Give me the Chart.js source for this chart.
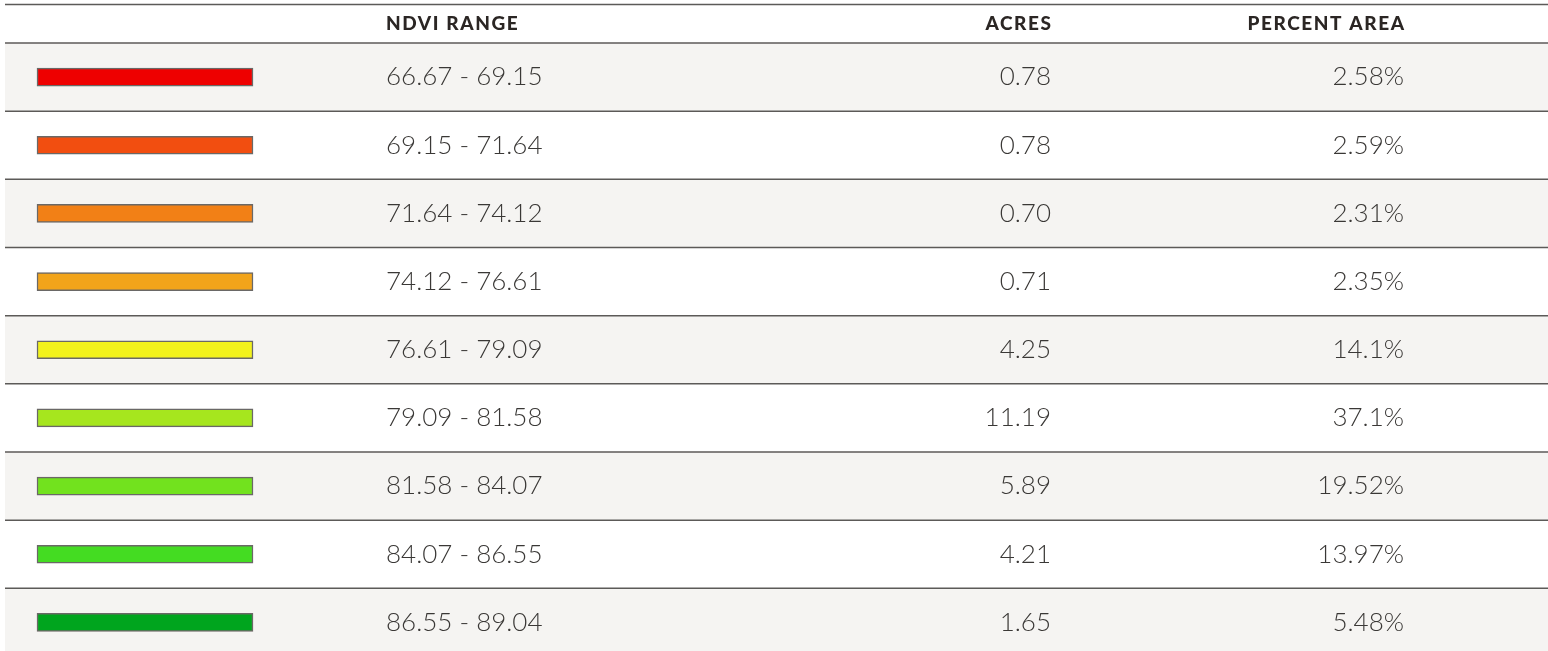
<!DOCTYPE html>
<html>
<head>
<meta charset="utf-8">
<title>NDVI Range Table</title>
<script src="https://cdn.jsdelivr.net/npm/chart.js@4/dist/chart.umd.min.js"></script>
<style>
  html, body { margin: 0; padding: 0; background: #ffffff; }
  #wrap { width: 1548px; height: 651px; position: relative; }
</style>
</head>
<body>
<div id="wrap"><canvas id="ndviTable"></canvas></div>
<script>
// table data
const headers = ['', 'NDVI RANGE', 'ACRES', 'PERCENT AREA'];
const ranges = ['66.67 - 69.15', '69.15 - 71.64', '71.64 - 74.12', '74.12 - 76.61', '76.61 - 79.09',
  '79.09 - 81.58', '81.58 - 84.07', '84.07 - 86.55', '86.55 - 89.04'];
const acres = [0.78, 0.78, 0.70, 0.71, 4.25, 11.19, 5.89, 4.21, 1.65];
const percentArea = [2.58, 2.59, 2.31, 2.35, 14.1, 37.1, 19.52, 13.97, 5.48];
const swatchColors = ['#ee0000', '#f24e10', '#f28016', '#f2a41a', '#f2f21c',
  '#a6e61e', '#72e21e', '#44dc22', '#00a51e'];

// layout (pixels along the x scale, rows along the y scale)
const layout = {
  headerHeight: 43,
  rowsVisible: 8.92,
  lineLeft: 5,
  swatchFrom: 37,
  swatchTo: 253,
  rangeLeft: 386,
  acresRight: 1051,
  percentRight: 1404
};

const rowCenters = ranges.map((_, i) => i + 0.5);

// row shading, separators, header and cell text
const tablePlugin = {
  id: 'tablePlugin',
  beforeDatasetsDraw(chart) {
    const { ctx, chartArea, scales: { y } } = chart;
    ctx.save();
    ranges.forEach((_, i) => {
      const top = y.getPixelForValue(i);
      const bottom = y.getPixelForValue(i + 1);
      if (i % 2 === 0) {
        ctx.fillStyle = '#f5f4f2';
        ctx.fillRect(layout.lineLeft, top, chartArea.right - layout.lineLeft, bottom - top);
      }
    });
    // separators
    ctx.strokeStyle = '#5c5a58';
    ctx.lineWidth = 1.5;
    const lines = [4.5];
    for (let i = 0; i <= ranges.length; i++) lines.push(y.getPixelForValue(i));
    lines.forEach(py => {
      ctx.beginPath();
      ctx.moveTo(layout.lineLeft, py);
      ctx.lineTo(chartArea.right, py);
      ctx.stroke();
    });
    ctx.restore();
  },
  afterDatasetsDraw(chart) {
    const { ctx, scales: { x, y } } = chart;
    ctx.save();
    // header
    ctx.fillStyle = '#2b2624';
    ctx.font = '900 19px Lato';
    ctx.letterSpacing = '1.6px';
    ctx.textBaseline = 'middle';
    const hy = 24;
    ctx.textAlign = 'left';
    ctx.fillText(headers[1], x.getPixelForValue(layout.rangeLeft), hy);
    ctx.textAlign = 'right';
    ctx.fillText(headers[2], x.getPixelForValue(layout.acresRight) + 1.6, hy);
    ctx.fillText(headers[3], x.getPixelForValue(layout.percentRight) + 1.6, hy);

    // cells
    ctx.letterSpacing = '0px';
    ctx.fillStyle = '#3a3836';
    ctx.font = '300 26px Lato';
    ranges.forEach((r, i) => {
      const cy = y.getPixelForValue(rowCenters[i]);
      ctx.textAlign = 'left';
      ctx.fillText(r, x.getPixelForValue(layout.rangeLeft), cy);
      ctx.textAlign = 'right';
      ctx.fillText(acres[i].toFixed(2), x.getPixelForValue(layout.acresRight), cy);
      ctx.fillText(percentArea[i] + '%', x.getPixelForValue(layout.percentRight), cy);
    });
    ctx.restore();
  }
};

new Chart(document.getElementById('ndviTable'), {
  type: 'bar',
  data: {
    datasets: [{
      data: rowCenters.map(c => ({ x: [layout.swatchFrom, layout.swatchTo], y: c })),
      backgroundColor: swatchColors,
      borderColor: '#6a6866',
      borderWidth: 1.5,
      borderSkipped: false,
      barThickness: 18
    }]
  },
  options: {
    indexAxis: 'y',
    responsive: true,
    maintainAspectRatio: false,
    animation: false,
    layout: { padding: { top: layout.headerHeight, left: 0, right: 0, bottom: 0 } },
    scales: {
      x: { type: 'linear', min: 0, max: 1548, offset: false, display: false },
      y: { type: 'linear', min: 0, max: layout.rowsVisible, reverse: true, offset: false, display: false }
    },
    plugins: {
      legend: { display: false },
      tooltip: { enabled: false }
    }
  },
  plugins: [tablePlugin]
});
</script>
</body>
</html>
